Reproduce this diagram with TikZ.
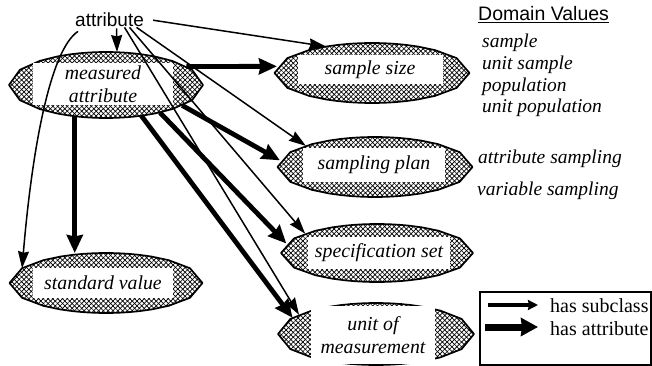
\documentclass[tikz,border=0pt]{standalone}
\usepackage{fontspec}
\setmainfont{Liberation Serif}
\newfontfamily\arialfont{Liberation Sans}
\usetikzlibrary{arrows.meta,shapes.geometric,patterns.meta}

\newcommand{\hatchell}[1]{%
  \fill[pattern={Lines[angle=45,distance=3.4pt,line width=0.7pt]}] (#1.0) \foreach \a in {10,20,...,350}{ -- (#1.\a)} -- cycle;
  \fill[pattern={Lines[angle=-45,distance=3.4pt,line width=0.7pt]}] (#1.0) \foreach \a in {10,20,...,350}{ -- (#1.\a)} -- cycle;
  \draw[line width=1.7pt, line join=round] (#1.0) \foreach \a in {10,20,...,350}{ -- (#1.\a)} -- cycle;
}

\tikzset{
  ell/.style={ellipse, draw=none, inner sep=0pt, outer sep=0pt},
  tbox/.style={fill=white, inner sep=0pt, font=\fontsize{19.8}{22.5}\selectfont\itshape, align=center},
  sub/.style={line width=1.5pt, -{Stealth[length=17pt,width=11pt,inset=1.5pt]}},
  att/.style={line width=4.8pt, -{Stealth[length=18pt,width=16pt,inset=1.5pt]}},
  legsub/.style={line width=3.3pt, -{Stealth[length=10pt,width=10pt,inset=1pt]}},
  legatt/.style={line width=7pt, -{Stealth[length=17pt,width=18pt,inset=1pt]}},
  ital/.style={font=\fontsize{19.5}{22}\selectfont\itshape, inner sep=0pt, anchor=base west},
  rom/.style={font=\fontsize{20}{22}\selectfont, inner sep=0pt, anchor=base west},
  sans/.style={font=\arialfont\fontsize{19}{22}\selectfont, inner sep=0pt, anchor=base west},
}

\begin{document}
\begin{tikzpicture}[x=1pt,y=-1pt]
\useasboundingbox[fill=white] (0,0) rectangle (652,366);

% ellipses
\node[ell, minimum width=194pt, minimum height=66pt] (ma) at (106,85) {};
\node[ell, minimum width=195pt, minimum height=60pt] (ss) at (372,73) {};
\node[ell, minimum width=195pt, minimum height=60pt] (sp) at (375,167) {};
\node[ell, minimum width=192pt, minimum height=58pt] (spec) at (377,253) {};
\node[ell, minimum width=193pt, minimum height=60pt] (sv) at (106,283) {};
\node[ell, minimum width=196pt, minimum height=62pt] (uom) at (376,334) {};
\hatchell{ma}
\hatchell{ss}
\hatchell{sp}
\hatchell{spec}
\hatchell{sv}
\hatchell{uom}

% text boxes
\node[tbox, minimum width=140pt, minimum height=42pt] (mat) at (103,84) {measured\\attribute};
\node[tbox, minimum width=145pt, minimum height=29pt] (sst) at (370,70) {sample size};
\node[tbox, minimum width=142pt, minimum height=34pt] (spt) at (374,165) {sampling plan};
\node[tbox, minimum width=142pt, minimum height=32pt] (spect) at (379,253) {specification set};
\node[tbox, minimum width=140pt, minimum height=30pt] (svt) at (103,283) {standard value};
\node[tbox, minimum width=124pt, minimum height=58pt] (uomt) at (373,335) {unit of\\measurement};

% labels
\node[sans] (attr) at (75,27) {attribute};
\node[font=\arialfont\fontsize{19.5}{22}\selectfont, inner sep=0pt, anchor=base west] (dvh) at (478,21) {\underline{Domain Values}};
\node[ital] (dv1) at (482,48) {sample};
\node[ital] (dv2) at (482,70) {unit sample};
\node[ital] (dv3) at (482,92) {population};
\node[ital] (dv4) at (482,113) {unit population};
\node[ital] (sp1) at (478,163) {attribute sampling};
\node[ital] (sp2) at (477,195) {variable sampling};

% has-subclass arrows from attribute
\draw[sub] ([xshift=9pt]attr.east) -- (ss.150);
\draw[sub] ([xshift=7pt,yshift=-1pt]attr.south) -- ([xshift=11pt]ma.north);
\draw[sub] ([shift={(3pt,-4pt)}]attr.south west) .. controls (50,50) and (32,150) .. (sv.170);
\draw[sub] ([xshift=27pt]attr.south) -- (sp.163);
\draw[sub] ([xshift=20pt]attr.south) -- (spec.165);
\draw[sub] ([xshift=15pt]attr.south) -- (uom.166);

% has-attribute arrows from measured attribute
\draw[att] (ma.13) -- (ss.176);
\draw[att] (ma.225) -- (ma.225 |- sv.north);
\draw[att] (ma.345) -- (sp.176);
\draw[att] (ma.333) -- (spec.174);
\draw[att] (ma.319) -- (uom.169);

% legend
\node[draw, line width=2.2pt, minimum width=171pt, minimum height=73pt, anchor=north west, inner sep=0pt] (leg) at (479,291) {};
\coordinate (l1a) at (488,305);
\coordinate (l1b) at (538,305);
\coordinate (l2a) at (485,327);
\coordinate (l2b) at (538,327);
\draw[legsub] (l1a) -- (l1b);
\draw[legatt] (l2a) -- (l2b);
\node[rom] (lt1) at (550,312) {has subclass};
\node[rom] (lt2) at (550,335) {has attribute};
\end{tikzpicture}
\end{document}
